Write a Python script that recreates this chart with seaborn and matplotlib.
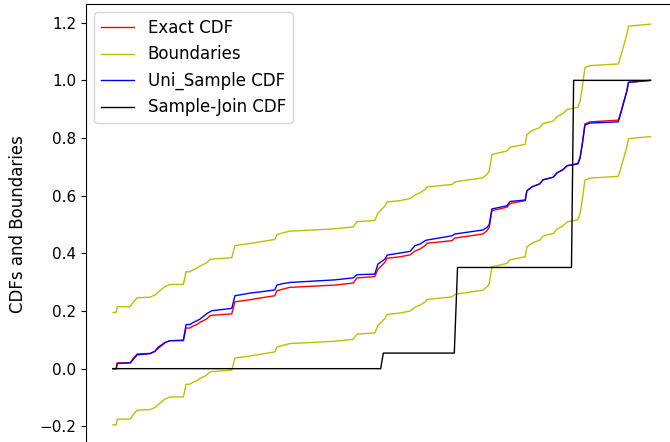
import matplotlib
matplotlib.use("Agg")
import matplotlib.pyplot as plt
import seaborn as sns
import numpy as np

# Evaluation grid shared by the exact and the uniform-sample CDFs
x_grid = [0.0, 0.6, 0.8, 3.2, 3.7, 4.5, 6.9, 7.8, 8.4, 9.7, 10.6, 13.1, 13.6,
          14.3, 14.9, 15.6, 16.2, 17.4, 18.1, 18.4, 22.1, 22.7, 25.5, 27.7,
          30.1, 30.5, 31.6, 32.9, 41.3, 44.7, 45.4, 48.7, 49.3, 50.6, 51.0,
          53.4, 55.3, 56.2, 57.1, 58.1, 58.4, 63.1, 63.6, 68.8, 69.6, 70.0,
          70.5, 73.3, 73.9, 76.7, 77.0, 78.0, 79.4, 80.0, 81.9, 82.6, 83.7,
          84.5, 86.5, 86.9, 87.3, 87.8, 88.7, 94.0, 94.3, 94.9, 95.6, 95.9,
          100.0]

exact_cdf = [0.000, 0.000, 0.020, 0.020, 0.034, 0.051, 0.053, 0.060, 0.070,
             0.090, 0.097, 0.097, 0.141, 0.141, 0.148, 0.153, 0.161, 0.172,
             0.184, 0.185, 0.190, 0.232, 0.239, 0.246, 0.253, 0.270, 0.276,
             0.282, 0.290, 0.297, 0.315, 0.319, 0.345, 0.369, 0.383, 0.388,
             0.395, 0.408, 0.415, 0.427, 0.435, 0.444, 0.453, 0.467, 0.479,
             0.490, 0.548, 0.560, 0.573, 0.583, 0.617, 0.631, 0.641, 0.655,
             0.664, 0.679, 0.690, 0.704, 0.712, 0.733, 0.779, 0.849, 0.856,
             0.862, 0.878, 0.918, 0.964, 0.993, 1.000]

uni_sample_cdf = [0.000, 0.000, 0.018, 0.020, 0.030, 0.048, 0.052, 0.060,
                  0.074, 0.091, 0.097, 0.099, 0.153, 0.153, 0.160, 0.166,
                  0.172, 0.190, 0.198, 0.201, 0.209, 0.253, 0.262, 0.267,
                  0.273, 0.290, 0.295, 0.299, 0.308, 0.315, 0.326, 0.328,
                  0.363, 0.380, 0.394, 0.401, 0.407, 0.427, 0.432, 0.444,
                  0.446, 0.461, 0.467, 0.481, 0.490, 0.500, 0.554, 0.565,
                  0.580, 0.585, 0.617, 0.631, 0.641, 0.655, 0.664, 0.679,
                  0.690, 0.704, 0.710, 0.731, 0.776, 0.845, 0.852, 0.856,
                  0.874, 0.915, 0.962, 0.993, 1.000]

# Half-width of the confidence band around the exact CDF
band_halfwidth = 0.195

# Step CDF from the sample join
join_x = [0.0, 49.8, 50.3, 63.5, 64.1, 85.3, 85.7, 100.0]
join_cdf = [0.0, 0.0, 0.054, 0.054, 0.351, 0.351, 1.0, 1.0]

upper_band = np.array(exact_cdf) + band_halfwidth
lower_band = np.array(exact_cdf) - band_halfwidth

fig = plt.figure(figsize=(6.7, 4.42), dpi=100)
ax = fig.add_axes([0.1285, -0.0066, 0.8825, 0.9973])

common = dict(ax=ax, sort=False, estimator=None, linewidth=1)
sns.lineplot(x=x_grid, y=exact_cdf, color="r", label="Exact CDF", **common)
sns.lineplot(x=x_grid, y=upper_band, color="y", label="Boundaries", **common)
sns.lineplot(x=x_grid, y=lower_band, color="y", **common)
sns.lineplot(x=x_grid, y=uni_sample_cdf, color="b", label="Uni_Sample CDF", **common)
sns.lineplot(x=join_x, y=join_cdf, color="k", label="Sample-Join CDF", **common)

ax.set_xlim(-5, 105)
ax.set_ylim(-0.2645, 1.2645)
ax.set_yticks([-0.2, 0.0, 0.2, 0.4, 0.6, 0.8, 1.0, 1.2])
ax.tick_params(axis="y", labelsize=11)
ax.set_xticks([])
ax.set_ylabel("CDFs and Boundaries", fontsize=12)
ax.yaxis.set_label_coords(-0.10, 0.5)
ax.set_xlabel("")
ax.legend(loc="upper left", fontsize=12)

fig.savefig("out.png", dpi=100)
